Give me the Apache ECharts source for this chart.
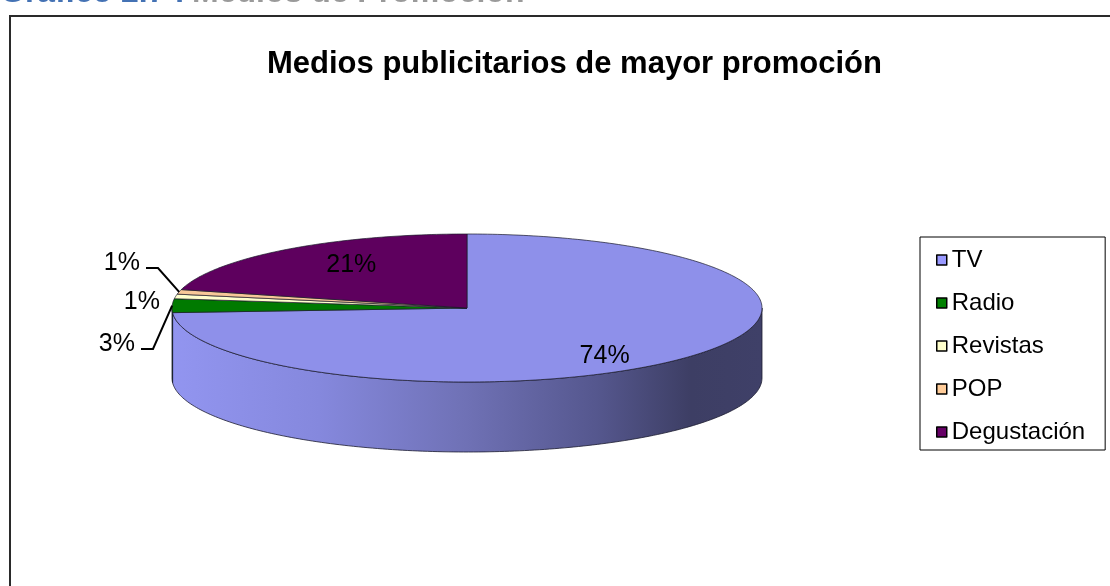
<!DOCTYPE html>
<html>
<head>
<meta charset="utf-8">
<script src="https://cdn.jsdelivr.net/npm/echarts@6/dist/echarts.min.js"></script>
<style>
html,body{margin:0;padding:0;background:#fff;}
#c{width:1110px;height:586px;}
</style>
</head>
<body>
<div id="c"></div>
<script>
// ---- data ----
const chartTitle = 'Medios publicitarios de mayor promoción';
const headingNumber = 'Gráfico 2.7 :';
const headingText = 'Medios de Promoción';
const categories = ['TV', 'Radio', 'Revistas', 'POP', 'Degustación'];
const values = [74, 3, 1, 1, 21];

// ---- styles / layout ----
const sliceColors = ['#8E90EA', '#007A00', '#FFFFCC', '#F8C898', '#5E005E'];
const legendColors = ['#9999FF', '#008000', '#FFFFCC', '#FFCC99', '#660066'];
const FONT = '"Liberation Sans", Arial, sans-serif';
const PIE = {cx: 467, cy: 308, rx: 295, ry: 74, depth: 70};
// outside labels for thin slices: offset of label's right edge from the pie's left tip
const outsideLabelLayout = {
  1: {dx: -37, dy: 36, leader: true},
  2: {dx: -12, dy: -6, leader: false},
  3: {dx: -32, dy: -45, leader: true}
};

const total = values.reduce((a, b) => a + b, 0);
const cum = [];
values.reduce((acc, v, i) => { cum[i] = acc; return acc + v; }, 0);

function pt(t, dy) {
  return [PIE.cx + PIE.rx * Math.sin(t), PIE.cy - PIE.ry * Math.cos(t) + (dy || 0)];
}
function arc(a, b, dy) {
  const pts = [];
  const n = Math.max(2, Math.ceil(Math.abs(b - a) / (Math.PI / 180)));
  for (let k = 0; k <= n; k++) pts.push(pt(a + (b - a) * k / n, dy));
  return pts;
}

function renderItem(params, api) {
  const i = params.dataIndex;
  const v = api.value(1);
  const a = cum[i] / total * Math.PI * 2;
  const b = (cum[i] + v) / total * Math.PI * 2;
  const children = [];
  // side wall (front half only)
  const sa = Math.max(a, Math.PI / 2), sb = Math.min(b, Math.PI * 1.5);
  if (sb > sa) {
    const top = arc(sa, sb, 0);
    const bot = arc(sb, sa, PIE.depth);
    const fill = i === 0 ? new echarts.graphic.LinearGradient(PIE.cx - PIE.rx, 0, PIE.cx + PIE.rx, 0, [
      {offset: 0, color: '#9295F0'},
      {offset: 0.25, color: '#8588DD'},
      {offset: 0.5, color: '#6F71B5'},
      {offset: 0.72, color: '#55578E'},
      {offset: 0.88, color: '#3D3E64'},
      {offset: 1, color: '#3F4068'}
    ], true) : '#005A00';
    children.push({
      type: 'polygon', z2: 1,
      shape: {points: top.concat(bot)},
      style: {fill: fill, stroke: '#1c1c30', lineWidth: 0.8}
    });
  }
  // top face
  children.push({
    type: 'polygon', z2: 2,
    shape: {points: [[PIE.cx, PIE.cy]].concat(arc(a, b, 0))},
    style: {fill: sliceColors[i], stroke: '#1a1a2a', lineWidth: 0.7}
  });
  const pct = Math.round(v / total * 100) + '%';
  const m = (a + b) / 2;
  if (v / total >= 0.05) {
    children.push({
      type: 'text', z2: 5,
      style: {
        text: pct, x: PIE.cx + PIE.rx * 0.64 * Math.sin(m), y: PIE.cy - PIE.ry * 0.84 * Math.cos(m) + 6,
        font: '25px ' + FONT, fill: '#000', align: 'center', verticalAlign: 'middle'
      }
    });
  } else {
    const L = outsideLabelLayout[i];
    const tx = PIE.cx - PIE.rx + L.dx, ty = PIE.cy + L.dy;
    children.push({
      type: 'text', z2: 5,
      style: {text: pct, x: tx, y: ty, font: '25px ' + FONT, fill: '#000', align: 'right', verticalAlign: 'middle'}
    });
    if (L.leader) {
      const anchor = pt(m, 0);
      children.push({
        type: 'polyline', z2: 6,
        shape: {points: [[tx + 6, ty + 5], [tx + 18, ty + 5], anchor]},
        style: {stroke: '#000', lineWidth: 2, fill: null}
      });
    }
  }
  return {type: 'group', children: children};
}

const chart = echarts.init(document.getElementById('c'), null, {renderer: 'canvas'});
chart.setOption({
  backgroundColor: '#fff',
  animation: false,
  title: {
    text: chartTitle, left: 262, top: 44,
    textStyle: {fontFamily: FONT, fontSize: 31, fontWeight: 'bold', color: '#000'}
  },
  legend: {
    orient: 'vertical', left: 920, top: 237,
    data: categories,
    icon: 'rect', itemWidth: 10, itemHeight: 10, itemGap: 19,
    itemStyle: {borderColor: '#000', borderWidth: 1.5},
    textStyle: {fontFamily: FONT, fontSize: 24, color: '#000', lineHeight: 24},
    borderColor: '#000', borderWidth: 1, padding: [11, 20, 6, 16],
    selectedMode: false
  },
  graphic: [
    {type: 'rect', silent: true, shape: {x: 10, y: 16, width: 1200, height: 700},
     style: {fill: null, stroke: '#2a2a2a', lineWidth: 2}},
    {type: 'text', silent: true, style: {x: 0, y: -7, text: headingNumber, font: 'bold 32px ' + FONT, fill: '#4472B4', verticalAlign: 'middle'}},
    {type: 'text', silent: true, style: {x: 192, y: -7, text: headingText, font: 'bold 32px ' + FONT, fill: '#9A9A9A', verticalAlign: 'middle'}}
  ],
  series: [
    {
      type: 'pie', name: 'legend', radius: [0, 0], center: [-50, -50], silent: true,
      label: {show: false}, labelLine: {show: false}, emphasis: {disabled: true},
      data: categories.map((c, i) => ({name: c, value: values[i], itemStyle: {color: legendColors[i]}}))
    },
    {
      type: 'custom', name: 'pie3d', coordinateSystem: 'none', silent: true,
      renderItem: renderItem,
      data: values.map((v, i) => [i, v])
    }
  ]
});
</script>
</body>
</html>
